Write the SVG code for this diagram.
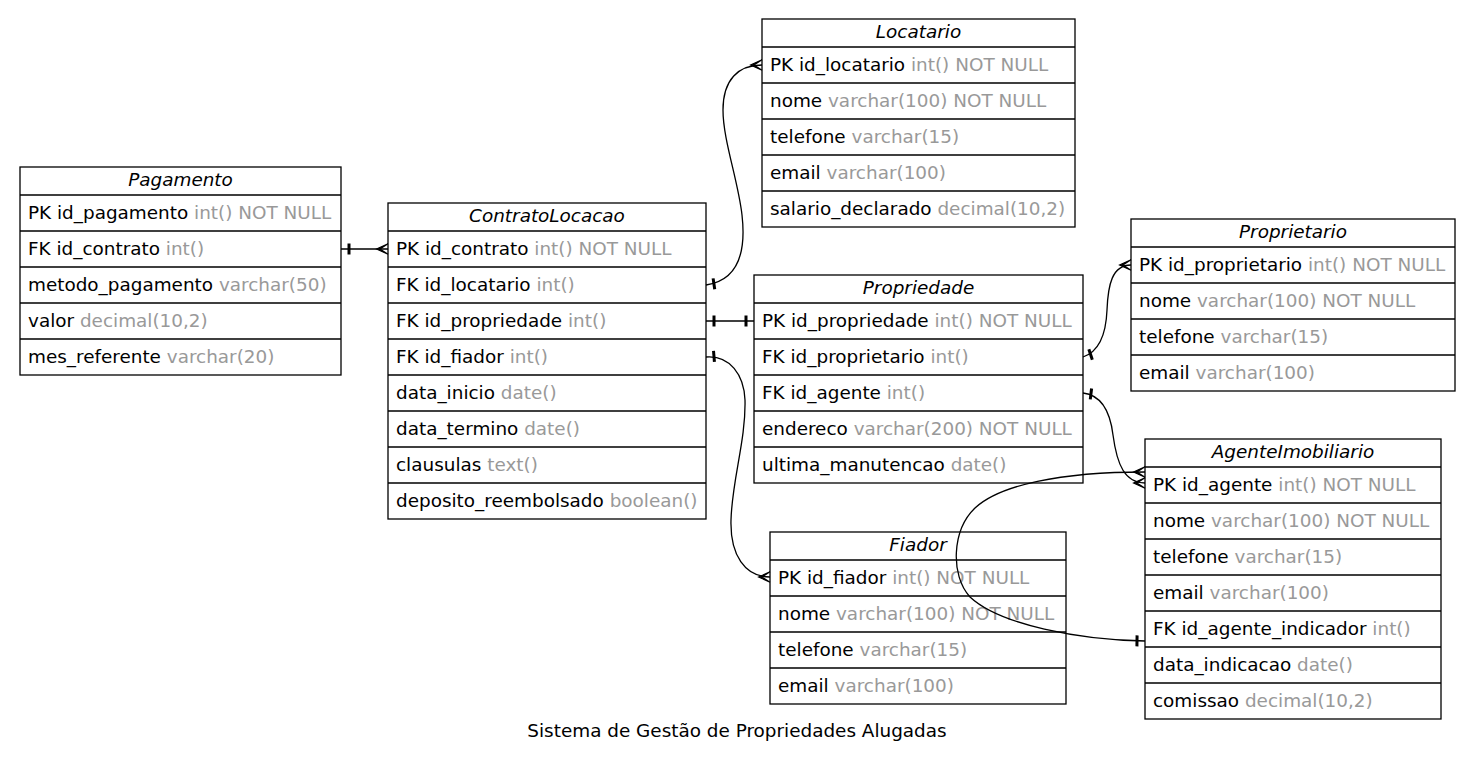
<svg xmlns="http://www.w3.org/2000/svg" width="1474" height="769" viewBox="0 0 1474 769">
<style>
text{font-family:"DejaVu Sans","Noto Sans",sans-serif;font-size:18.4px;fill:#000}
.ttl{font-style:italic;text-anchor:middle}
.t{fill:#999999}
.box{fill:#fff;stroke:#000;stroke-width:1.3}
.sep{stroke:#000;stroke-width:1.3}
.edge{fill:none;stroke:#000;stroke-width:1.3}
.cap{text-anchor:middle}
</style>
<defs>
<marker id="crow" viewBox="-13 -7 14 14" refX="0" refY="0" markerWidth="14" markerHeight="14" markerUnits="userSpaceOnUse" orient="auto" overflow="visible"><path d="M0,-5.2 L-11.5,0 L0,5.2 L-8,0 Z" fill="#000" stroke="#000" stroke-width="1.1"/></marker>
<marker id="tee" viewBox="-13 -7 14 14" refX="0" refY="0" markerWidth="14" markerHeight="14" markerUnits="userSpaceOnUse" orient="auto-start-reverse" overflow="visible"><rect x="-9.5" y="-5.5" width="3" height="11" fill="#000"/></marker>
</defs>
<rect width="1474" height="769" fill="#fff"/>

<g id="Pagamento" transform="translate(20,167)">
<rect class="box" x="0" y="0" width="321" height="208"/>
<path class="sep" d="M0,28H321M0,64H321M0,100H321M0,136H321M0,172H321"/>
<text class="ttl" x="160.5" y="19">Pagamento</text>
<text x="8" y="51.5">PK id_pagamento<tspan class="t"> int() NOT NULL</tspan></text>
<text x="8" y="87.5">FK id_contrato<tspan class="t"> int()</tspan></text>
<text x="8" y="123.5">metodo_pagamento<tspan class="t"> varchar(50)</tspan></text>
<text x="8" y="159.5">valor<tspan class="t"> decimal(10,2)</tspan></text>
<text x="8" y="195.5">mes_referente<tspan class="t"> varchar(20)</tspan></text>
</g>

<g id="ContratoLocacao" transform="translate(388,203)">
<rect class="box" x="0" y="0" width="318" height="316"/>
<path class="sep" d="M0,28H318M0,64H318M0,100H318M0,136H318M0,172H318M0,208H318M0,244H318M0,280H318"/>
<text class="ttl" x="159" y="19">ContratoLocacao</text>
<text x="8" y="51.5">PK id_contrato<tspan class="t"> int() NOT NULL</tspan></text>
<text x="8" y="87.5">FK id_locatario<tspan class="t"> int()</tspan></text>
<text x="8" y="123.5">FK id_propriedade<tspan class="t"> int()</tspan></text>
<text x="8" y="159.5">FK id_fiador<tspan class="t"> int()</tspan></text>
<text x="8" y="195.5">data_inicio<tspan class="t"> date()</tspan></text>
<text x="8" y="231.5">data_termino<tspan class="t"> date()</tspan></text>
<text x="8" y="267.5">clausulas<tspan class="t"> text()</tspan></text>
<text x="8" y="303.5">deposito_reembolsado<tspan class="t"> boolean()</tspan></text>
</g>

<g id="Locatario" transform="translate(762,19)">
<rect class="box" x="0" y="0" width="313" height="208"/>
<path class="sep" d="M0,28H313M0,64H313M0,100H313M0,136H313M0,172H313"/>
<text class="ttl" x="156.5" y="19">Locatario</text>
<text x="8" y="51.5">PK id_locatario<tspan class="t"> int() NOT NULL</tspan></text>
<text x="8" y="87.5">nome<tspan class="t"> varchar(100) NOT NULL</tspan></text>
<text x="8" y="123.5">telefone<tspan class="t"> varchar(15)</tspan></text>
<text x="8" y="159.5">email<tspan class="t"> varchar(100)</tspan></text>
<text x="8" y="195.5">salario_declarado<tspan class="t"> decimal(10,2)</tspan></text>
</g>

<g id="Propriedade" transform="translate(754,275)">
<rect class="box" x="0" y="0" width="329" height="208"/>
<path class="sep" d="M0,28H329M0,64H329M0,100H329M0,136H329M0,172H329"/>
<text class="ttl" x="164.5" y="19">Propriedade</text>
<text x="8" y="51.5">PK id_propriedade<tspan class="t"> int() NOT NULL</tspan></text>
<text x="8" y="87.5">FK id_proprietario<tspan class="t"> int()</tspan></text>
<text x="8" y="123.5">FK id_agente<tspan class="t"> int()</tspan></text>
<text x="8" y="159.5">endereco<tspan class="t"> varchar(200) NOT NULL</tspan></text>
<text x="8" y="195.5">ultima_manutencao<tspan class="t"> date()</tspan></text>
</g>

<g id="Proprietario" transform="translate(1131,219)">
<rect class="box" x="0" y="0" width="324" height="172"/>
<path class="sep" d="M0,28H324M0,64H324M0,100H324M0,136H324"/>
<text class="ttl" x="162" y="19">Proprietario</text>
<text x="8" y="51.5">PK id_proprietario<tspan class="t"> int() NOT NULL</tspan></text>
<text x="8" y="87.5">nome<tspan class="t"> varchar(100) NOT NULL</tspan></text>
<text x="8" y="123.5">telefone<tspan class="t"> varchar(15)</tspan></text>
<text x="8" y="159.5">email<tspan class="t"> varchar(100)</tspan></text>
</g>

<g id="AgenteImobiliario" transform="translate(1145,439)">
<rect class="box" x="0" y="0" width="296" height="280"/>
<path class="sep" d="M0,28H296M0,64H296M0,100H296M0,136H296M0,172H296M0,208H296M0,244H296"/>
<text class="ttl" x="148" y="19">AgenteImobiliario</text>
<text x="8" y="51.5">PK id_agente<tspan class="t"> int() NOT NULL</tspan></text>
<text x="8" y="87.5">nome<tspan class="t"> varchar(100) NOT NULL</tspan></text>
<text x="8" y="123.5">telefone<tspan class="t"> varchar(15)</tspan></text>
<text x="8" y="159.5">email<tspan class="t"> varchar(100)</tspan></text>
<text x="8" y="195.5">FK id_agente_indicador<tspan class="t"> int()</tspan></text>
<text x="8" y="231.5">data_indicacao<tspan class="t"> date()</tspan></text>
<text x="8" y="267.5">comissao<tspan class="t"> decimal(10,2)</tspan></text>
</g>

<g id="Fiador" transform="translate(770,532)">
<rect class="box" x="0" y="0" width="296" height="172"/>
<path class="sep" d="M0,28H296M0,64H296M0,100H296M0,136H296"/>
<text class="ttl" x="148" y="19">Fiador</text>
<text x="8" y="51.5">PK id_fiador<tspan class="t"> int() NOT NULL</tspan></text>
<text x="8" y="87.5">nome<tspan class="t"> varchar(100) NOT NULL</tspan></text>
<text x="8" y="123.5">telefone<tspan class="t"> varchar(15)</tspan></text>
<text x="8" y="159.5">email<tspan class="t"> varchar(100)</tspan></text>
</g>

<g id="connectors">
<path class="edge" d="M341,249 L388,249" marker-start="url(#tee)" marker-end="url(#crow)"/>
<path class="edge" d="M706,285 C740,280 746,250 742,215 C738,180 723,140 723,110 C723,80 738,65 762,65" marker-start="url(#tee)" marker-end="url(#crow)"/>
<path class="edge" d="M706,321 L754,321" marker-start="url(#tee)" marker-end="url(#tee)"/>
<path class="edge" d="M706,357 C730,355 744,375 745,400 C746,440 732,480 731,520 C730,555 745,577 770,577" marker-start="url(#tee)" marker-end="url(#crow)"/>
<path class="edge" d="M1083,357 C1098,352 1106,335 1107,310 C1108,285 1112,265 1131,265" marker-start="url(#tee)" marker-end="url(#crow)"/>
<path class="edge" d="M1083,393 C1100,395 1110,410 1113,435 C1117,465 1125,483 1145,483" marker-start="url(#tee)" marker-end="url(#crow)"/>
<path class="edge" d="M1145,641 C1080,640 1000,625 970,597 C950,575 952,530 975,508 C1000,485 1060,472 1145,472" marker-start="url(#tee)" marker-end="url(#crow)"/>
</g>

<text class="cap" x="737" y="737">Sistema de Gestão de Propriedades Alugadas</text>
</svg>
